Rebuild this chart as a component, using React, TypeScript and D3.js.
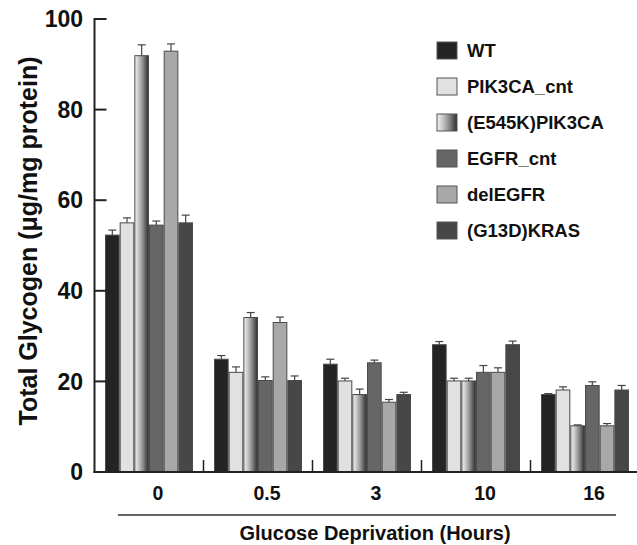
import React from "react";
import * as d3 from "d3";

const groups = ["0", "0.5", "3", "10", "16"];
const seriesNames = ["WT", "PIK3CA_cnt", "(E545K)PIK3CA", "EGFR_cnt", "delEGFR", "(G13D)KRAS"];
const seriesFills = ["#242424", "#e1e1e1", "url(#gradE545K)", "#666666", "#a8a8aa", "#474747"];

// values[series][group]
const wtValues = [52.3, 24.9, 23.8, 28.1, 17.1];
const pik3caCntValues = [55.0, 22.0, 20.1, 20.1, 18.1];
const e545kValues = [91.9, 34.1, 17.1, 20.1, 10.2];
const egfrCntValues = [54.5, 20.2, 24.1, 22.0, 19.1];
const delEgfrValues = [92.9, 33.0, 15.4, 22.0, 10.2];
const krasValues = [55.0, 20.2, 17.1, 28.1, 18.1];

const wtErr = [1.1, 0.8, 1.1, 0.7, 0.2];
const pik3caCntErr = [1.1, 1.2, 0.6, 0.6, 0.7];
const e545kErr = [2.4, 1.1, 1.2, 0.6, 0.2];
const egfrCntErr = [0.9, 0.8, 0.6, 1.5, 0.8];
const delEgfrErr = [1.6, 1.2, 0.6, 1.0, 0.5];
const krasErr = [1.7, 1.0, 0.5, 0.8, 1.0];

const allValues = [wtValues, pik3caCntValues, e545kValues, egfrCntValues, delEgfrValues, krasValues];
const allErr = [wtErr, pik3caCntErr, e545kErr, egfrCntErr, delEgfrErr, krasErr];

const yTicks = [0, 20, 40, 60, 80, 100];

const W = 637;
const H = 545;
const axisX = 94.5;
const baseY = 472;
const topY = 19;

export default function App() {
  const y = d3.scaleLinear().domain([0, 100]).range([baseY, topY]);
  const x0 = d3.scaleBand<string>().domain(groups).range([axisX, axisX + 109 * groups.length]).padding(0);
  const x1 = d3
    .scaleBand<number>()
    .domain(d3.range(seriesNames.length))
    .range([11, 98])
    .paddingInner(0.07)
    .paddingOuter(0);

  const font = "'Liberation Sans', Arial, Helvetica, sans-serif";

  return (
    <svg
      width={W}
      height={H}
      viewBox={`0 0 ${W} ${H}`}
      style={{ position: "absolute", left: 0, top: 0, background: "#fff" }}
      fontFamily={font}
    >
      <defs>
        <linearGradient id="gradE545K" x1="0" y1="0" x2="1" y2="0">
          <stop offset="0%" stopColor="#f2f2f2" />
          <stop offset="30%" stopColor="#c4c4c4" />
          <stop offset="60%" stopColor="#8a8a8a" />
          <stop offset="100%" stopColor="#2e2e2e" />
        </linearGradient>
      </defs>

      {/* bars */}
      {groups.map((g, gi) => (
        <g key={g} transform={`translate(${x0(g)},0)`}>
          {seriesNames.map((s, si) => {
            const v = allValues[si][gi];
            const e = allErr[si][gi];
            const bx = x1(si)!;
            const bw = x1.bandwidth();
            const cx = bx + bw / 2;
            return (
              <g key={s}>
                <line x1={cx} x2={cx} y1={y(v)} y2={y(v + e)} stroke="#444" strokeWidth={1.2} />
                <line x1={cx - 4} x2={cx + 4} y1={y(v + e)} y2={y(v + e)} stroke="#444" strokeWidth={1.2} />
                <rect
                  x={bx}
                  y={y(v)}
                  width={bw}
                  height={baseY - y(v)}
                  fill={seriesFills[si]}
                  stroke="#4a4a4a"
                  strokeWidth={1}
                />
              </g>
            );
          })}
        </g>
      ))}

      {/* y axis */}
      <line x1={axisX} x2={axisX} y1={topY - 1} y2={baseY + 1} stroke="#222" strokeWidth={2} />
      {yTicks.map((t) => (
        <g key={t}>
          <line x1={axisX} x2={axisX + 12} y1={y(t)} y2={y(t)} stroke="#222" strokeWidth={2} />
          <text
            x={83}
            y={y(t)}
            dy="0.36em"
            textAnchor="end"
            fontSize={23}
            fontWeight="bold"
            fill="#111"
          >
            {t}
          </text>
        </g>
      ))}

      {/* x baseline */}
      <line x1={axisX - 1} x2={W} y1={baseY} y2={baseY} stroke="#222" strokeWidth={2} />
      {groups.slice(1).map((g) => (
        <line key={g} x1={x0(g)} x2={x0(g)} y1={baseY} y2={baseY - 12} stroke="#222" strokeWidth={1.5} />
      ))}
      {groups.map((g) => (
        <text
          key={g}
          x={x0(g)! + x0.bandwidth() / 2 + 9}
          y={500}
          textAnchor="middle"
          fontSize={19.5}
          fontWeight="bold"
          fill="#111"
        >
          {g}
        </text>
      ))}

      <line x1={118} x2={616} y1={515} y2={515} stroke="#333" strokeWidth={1.6} />
      <text x={375} y={540} textAnchor="middle" fontSize={20} fontWeight="bold" fill="#111">
        Glucose Deprivation (Hours)
      </text>

      {/* y label */}
      <text
        transform={`translate(37,241) rotate(-90)`}
        textAnchor="middle"
        fontSize={25}
        fontWeight="bold"
        fill="#111"
      >
        Total Glycogen (μg/mg protein)
      </text>

      {/* legend */}
      {seriesNames.map((s, i) => (
        <g key={s} transform={`translate(437,${42 + i * 36})`}>
          <rect x={0} y={0} width={20} height={17} fill={seriesFills[i]} stroke="#555" strokeWidth={1} />
          <text x={30} y={15} fontSize={18.5} fontWeight="bold" fill="#111">
            {s}
          </text>
        </g>
      ))}
    </svg>
  );
}
